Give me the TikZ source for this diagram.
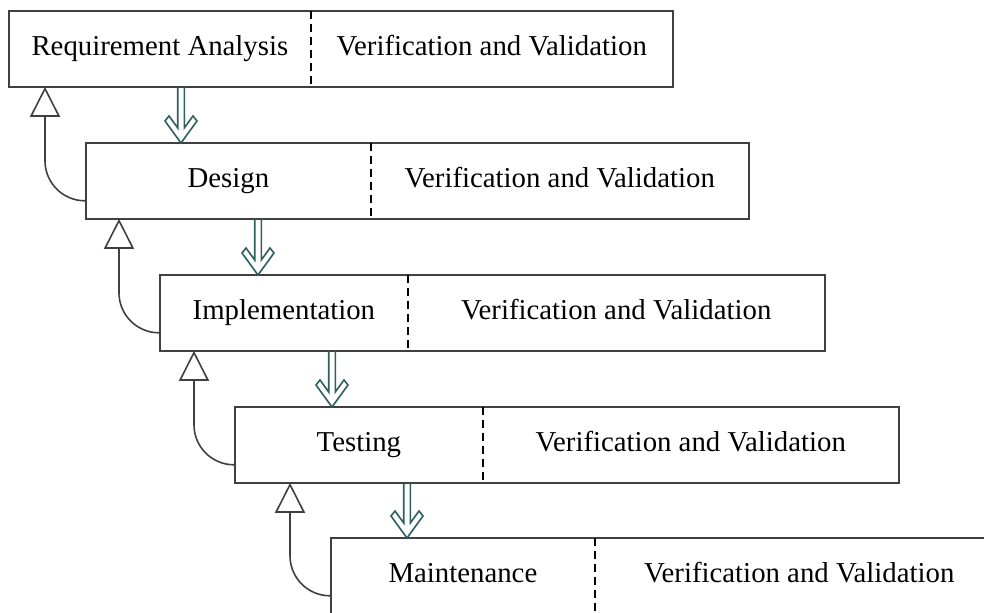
\documentclass[tikz,border=0pt]{standalone}
\usepackage{fontspec}
\setmainfont{Liberation Serif}
\usetikzlibrary{positioning,calc,arrows.meta}
\definecolor{flowteal}{RGB}{46,94,94}
\definecolor{boxgray}{RGB}{64,64,64}

\tikzset{
	stagebox/.style={draw=none, inner sep=0pt, minimum height=37.5pt, text height=10pt, text depth=3pt, font=\fontsize{14.4}{17}\selectfont},
	frame/.style={draw=boxgray, line width=1pt},
	divider/.style={line width=1pt, dash pattern=on 4pt off 2.5pt},
	flowline/.style={draw=flowteal, line width=0.8pt, line join=miter},
	feedback/.style={draw=boxgray, line width=0.8pt, rounded corners=20pt, -{Triangle[open, fill=white, length=15pt, width=15pt]}}
}
% hollow double arrow from #1 down to #2
\newcommand{\flowdown}[2]{%
	\draw[flowline] ($(#1)+(-3.3,0)$) -- ($(#2)+(-3.3,-15)$) -- ($(#2)+(-12,-27)$) -- ($(#2)+(-16,-22)$) -- (#2)
		-- ($(#2)+(16,-22)$) -- ($(#2)+(12,-27)$) -- ($(#2)+(3.3,-15)$) -- ($(#1)+(3.3,0)$);}

\begin{document}
\begin{tikzpicture}[x=0.5pt, y=-0.5pt]
	\path[use as bounding box] (0,0) rectangle (984,613);
	\clip (0,0) rectangle (984,613);
	% the five stages
	\node[stagebox, anchor=north west, minimum width=150.5pt] (ra) at (9,11) {Requirement Analysis};
	\node[stagebox, minimum width=180.5pt, right=0pt of ra] (rav) {Verification and Validation};
	\node[stagebox, anchor=north west, minimum width=142pt] (de) at (86,143) {Design};
	\node[stagebox, minimum width=188.5pt, right=0pt of de] (dev) {Verification and Validation};
	\node[stagebox, anchor=north west, minimum width=123.5pt] (im) at (160,275) {Implementation};
	\node[stagebox, minimum width=208pt, right=0pt of im] (imv) {Verification and Validation};
	\node[stagebox, anchor=north west, minimum width=123.5pt] (te) at (235,407) {Testing};
	\node[stagebox, minimum width=207.5pt, right=0pt of te] (tev) {Verification and Validation};
	\node[stagebox, anchor=north west, minimum width=131.5pt] (ma) at (331,538) {Maintenance};
	\node[stagebox, minimum width=204pt, right=0pt of ma] (mav) {Verification and Validation};
	\foreach \s/\v in {ra/rav, de/dev, im/imv, te/tev, ma/mav} {
		\draw[frame] (\s.north west) rectangle (\v.south east);
		\draw[divider] (\s.north east) -- (\s.south east);
	}
	% downward flow
	\foreach \u/\l [count=\i] in {ra/de, de/im, im/te, te/ma} {
		\coordinate (a\i) at ($(\u.south west)+(172,0)$);
		\coordinate (b\i) at (a\i |- \l.north);
		\flowdown{a\i}{b\i}
	}
	% feedback to the stage above
	\foreach \u/\l [count=\i] in {ra/de, de/im, im/te, te/ma} {
		\coordinate (f\i) at ($(\l.south west)+(0,-18)$);
		\coordinate (g\i) at ($(\l.west |- \u.south)+(-41,0)$);
		\draw[feedback] (f\i) -| (g\i);
	}
\end{tikzpicture}
\end{document}
